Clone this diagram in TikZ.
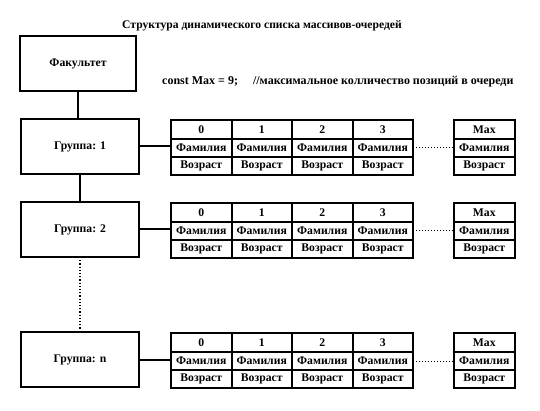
\documentclass[tikz,border=0pt]{standalone}
\usepackage{fontspec}
\setmainfont{Liberation Serif}
\usetikzlibrary{positioning}

\tikzset{
    box/.style={draw, line width=2pt, minimum width=118pt, minimum height=55pt, inner sep=0pt, outer sep=0pt, font=\bfseries\fontsize{11.7}{13}\selectfont},
    cell/.style={draw, line width=2pt, minimum width=60.5pt, minimum height=18pt, inner sep=0pt, outer sep=0pt, font=\bfseries\fontsize{11.7}{13}\selectfont},
    head/.style={cell, minimum height=19pt},
}

\begin{document}
\begin{tikzpicture}[x=1pt, y=-1pt]
    \useasboundingbox (0,0) rectangle (540,411);

    \node(title) at (262,26) {\bfseries\fontsize{11.6}{13}\selectfont Структура динамического списка массивов-очередей};
    \node(fac)[box, minimum width=116pt, anchor=north west] at (20,36) {Факультет};
    \node(const)[anchor=west, inner sep=0pt, font=\bfseries\fontsize{12}{14}\selectfont] at (162,82) {const Max = 9;\hspace{15pt}//максимальное колличество позиций в очереди};

    \foreach \g/\y in {1/119, 2/202, n/332} {
        \node(G\g)[box, anchor=north west] at (21,\y) {Группа: \g};

        % ячейки 0..3
        \foreach \c in {0,1,2,3} {
            \node(N\g\c)[head, anchor=north west] at ({171+60.5*\c},\y+1) {\c};
            \node(F\g\c)[cell, below=0pt of N\g\c] {Фамилия};
            \node(V\g\c)[cell, below=0pt of F\g\c] {Возраст};
        }

        % последняя позиция
        \node(N\g m)[head, anchor=north west] at (454,\y+1) {Max};
        \node(F\g m)[cell, below=0pt of N\g m] {Фамилия};
        \node(V\g m)[cell, below=0pt of F\g m] {Возраст};

        \draw[line width=2pt] (G\g.east) -- (G\g.east -| F\g0.west);
        \draw[dotted, line width=1pt] (F\g3.east) -- (F\g m.west);
    }

    \draw[line width=2pt] (fac.south) -- (fac.south |- G1.north);
    \draw[line width=2pt] (G1.south) -- (G2.north);
    \draw[dotted, line width=1.2pt] (G2.south) -- (Gn.north);

\end{tikzpicture}
\end{document}
